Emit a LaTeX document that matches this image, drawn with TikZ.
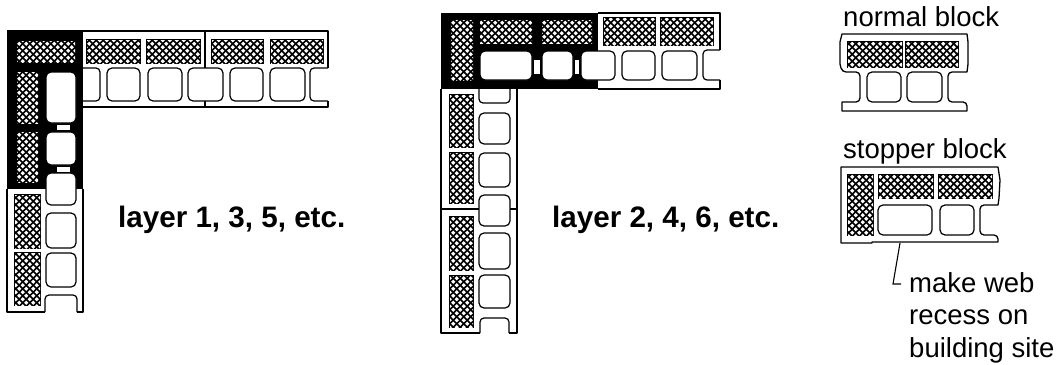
\documentclass[tikz,border=0pt]{standalone}
\usepackage{fontspec}
\setmainfont{Liberation Sans}
\usetikzlibrary{patterns}

\pgfdeclarepatternformonly{dither}{\pgfqpoint{-1pt}{-1pt}}{\pgfqpoint{8pt}{8pt}}{\pgfqpoint{7pt}{7pt}}{%
    \pgfpathmoveto{\pgfqpoint{-0.45pt}{1.75pt}}%
    \pgfpathlineto{\pgfqpoint{1.75pt}{3.95pt}}%
    \pgfpathlineto{\pgfqpoint{3.95pt}{1.75pt}}%
    \pgfpathlineto{\pgfqpoint{1.75pt}{-0.45pt}}%
    \pgfpathclose%
    \pgfpathmoveto{\pgfqpoint{3.05pt}{5.25pt}}%
    \pgfpathlineto{\pgfqpoint{5.25pt}{7.45pt}}%
    \pgfpathlineto{\pgfqpoint{7.45pt}{5.25pt}}%
    \pgfpathlineto{\pgfqpoint{5.25pt}{3.05pt}}%
    \pgfpathclose%
    \pgfusepath{fill}%
}

\begin{document}
\begin{tikzpicture}[
        x=1pt, y=-1pt,
        wall/.style={draw, line width=1.3pt, line join=round},
        solid/.style={fill=black},
        stone/.style={draw, line width=2pt, fill=black, postaction={pattern=dither, pattern color=white}},
        cavity/.style={draw, line width=1.2pt, fill=white, rounded corners=5pt},
        notch/.style={draw, line width=1.2pt, rounded corners=4pt},
        web/.style={fill=white},
        joint/.style={draw, line width=1.1pt},
        label/.style={anchor=base west, inner sep=0pt, font=\fontsize{27.5}{32}\selectfont},
        layer/.style={anchor=base west, inner sep=0pt, font=\fontsize{29.6}{34}\selectfont\bfseries},
    ]
    \useasboundingbox (0,0) rectangle (1062,364);

    % layer 1
    \fill[solid] (7,30) rectangle (83,189);
    \draw[wall] (83,31) -- (328,31) -- (328,68);
    \draw[wall] (328,101) -- (328,107) -- (83,107);
    \draw[joint] (205,31) -- (205,68) (205,101) -- (205,107);
    \draw[wall] (7,189) -- (7,312) -- (45,312);
    \draw[wall] (83,189) -- (83,312) -- (77,312);
    \draw[notch] (45,312) -- (45,295) -- (77,295) -- (77,312);
    \draw[notch] (83,68) -- (100,68) -- (100,101) -- (83,101);
    \draw[notch] (328,68) -- (310,68) -- (310,101) -- (328,101);
    \foreach \xa/\xb in {107/140, 148/182, 188/223, 230/263, 270/305}
        \draw[cavity] (\xa,68) rectangle (\xb,101);
    \foreach \ya/\yb in {72/123, 132/165, 173/205, 213/248, 253/287}
        \draw[cavity] (46,\ya) rectangle (76,\yb);
    \foreach \ya/\yb in {125/130, 167/172}
        \fill[web] (57,\ya) rectangle (70,\yb);
    \foreach \xa/\ya/\xb/\yb in {17/41/75/62, 17/72/38/123, 17/132/38/182, 87/40/140/63, 147/40/200/63, 212/40/263/63, 271/40/323/63, 15/195/40/248, 15/253/40/305}
        \draw[stone] (\xa,\ya) rectangle (\xb,\yb);
    \node[layer] (layerodd) at (118,227) {layer 1, 3, 5, etc.};

    % layer 2
    \fill[solid] (441,13) rectangle (598,89);
    \draw[wall] (598,13) -- (720,13) -- (720,50);
    \draw[wall] (720,80) -- (720,89) -- (598,89);
    \draw[notch] (720,50) -- (703,50) -- (703,80) -- (720,80);
    \draw[wall] (441,89) -- (441,333) -- (480,333);
    \draw[wall] (517,89) -- (517,333) -- (509,333);
    \draw[notch] (480,333) -- (480,318) -- (509,318) -- (509,333);
    \draw[notch] (479,89) -- (479,103) -- (510,103) -- (510,89);
    \draw[joint] (441,209) -- (479,209) (510,209) -- (517,209);
    \foreach \xa/\xb in {480/532, 542/573, 581/615, 622/655, 662/697}
        \draw[cavity] (\xa,51) rectangle (\xb,80);
    \foreach \ya/\yb in {113/144, 153/187, 195/226, 233/269, 275/308}
        \draw[cavity] (479,\ya) rectangle (510,\yb);
    \foreach \xa/\xb in {534/540, 575/579}
        \fill[web] (\xa,60) rectangle (\xb,74);
    \foreach \xa/\ya/\xb/\yb in {451/20/473/80, 480/20/532/43, 542/20/592/43, 604/18/655/45, 661/18/713/45, 450/95/473/147, 450/153/473/203, 450/217/473/270, 450/276/473/327}
        \draw[stone] (\xa,\ya) rectangle (\xb,\yb);
    \node[layer] (layereven) at (552,227) {layer 2, 4, 6, etc.};

    % normal block
    \node[label] (normallabel) at (843,26) {normal block};
    \draw[wall] (842,34) -- (967,34) -- (968,42) -- (968,64) -- (967,72) {[rounded corners=4pt] -- (948,72) -- (948,102) -- (967,102)} -- (967,111) -- (842,111) -- (842,102) {[rounded corners=4pt] -- (860,102) -- (860,72) -- (842,72)} -- (840,64) -- (840,42) -- cycle;
    \foreach \xa/\xb in {867/901, 907/942}
        \draw[cavity] (\xa,72) rectangle (\xb,102);
    \foreach \xa/\xb in {848/902, 906/958}
        \draw[stone] (\xa,42) rectangle (\xb,67);

    % stopper block
    \node[label] (stopperlabel) at (843,158) {stopper block};
    \draw[wall] (841,167) -- (998,167) -- (1000,180) -- (999,198) -- (998,205) {[rounded corners=4pt] -- (980,205) -- (980,235) -- (998,235)} -- (998,242) -- (872,242) -- (872,243) -- (841,243) -- cycle;
    \foreach \xa/\xb in {878/932, 940/974}
        \draw[cavity] (\xa,205) rectangle (\xb,235);
    \foreach \xa/\ya/\xb/\yb in {848/175/873/235, 879/175/933/198, 939/175/992/198}
        \draw[stone] (\xa,\ya) rectangle (\xb,\yb);
    \coordinate (recess) at (900,243);
    \coordinate (bend) at (893,284);
    \coordinate (tick) at (901,284);
    \draw[line width=1.1pt] (recess) -- (bend) -- (tick);
    \node[label] (webline) at (909,292) {make web};
    \node[label] (recessline) at (909,324) {recess on};
    \node[label] (siteline) at (909,357) {building site};
\end{tikzpicture}
\end{document}
